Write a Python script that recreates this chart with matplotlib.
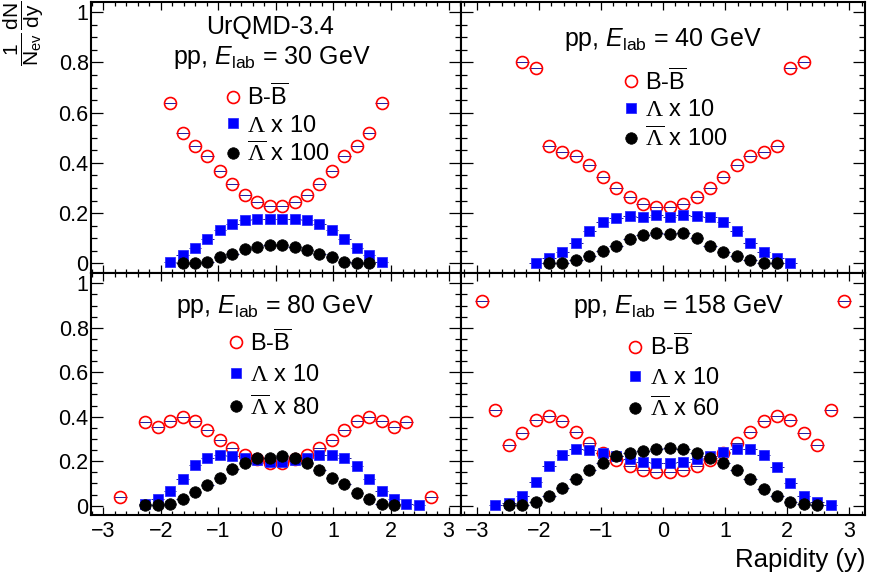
import numpy as np
import matplotlib
matplotlib.use("Agg")
import matplotlib.pyplot as plt
from matplotlib.ticker import MultipleLocator, FuncFormatter

plt.rcParams['font.family'] = ['Liberation Sans', 'DejaVu Sans']
plt.rcParams['mathtext.fontset'] = 'custom'
plt.rcParams['mathtext.rm'] = 'Liberation Sans'
plt.rcParams['mathtext.it'] = 'Liberation Sans:italic'
plt.rcParams['mathtext.sf'] = 'Liberation Serif'

nan = np.nan

# bin centres of the rapidity histograms
rapidity = [-2.916, -2.700, -2.484, -2.268, -2.052, -1.836, -1.620, -1.404,
            -1.188, -0.972, -0.756, -0.540, -0.324, -0.108, 0.108, 0.324,
            0.540, 0.756, 0.972, 1.188, 1.404, 1.620, 1.836, 2.052, 2.268,
            2.484, 2.700, 2.916]
half_bin = 0.108

# 30 GeV
bb_30 = [nan]*5 + [0.637, 0.520, 0.469, 0.427, 0.367, 0.316, 0.271, 0.245, 0.229,
                   0.229, 0.245, 0.271, 0.316, 0.367, 0.427, 0.469, 0.520, 0.637] + [nan]*5
lam_30 = [nan]*5 + [0.004, 0.033, 0.060, 0.096, 0.133, 0.158, 0.172, 0.177, 0.177,
                    0.177, 0.177, 0.172, 0.158, 0.133, 0.096, 0.060, 0.033, 0.004] + [nan]*5
alam_30 = [nan]*6 + [0.001, 0.001, 0.007, 0.023, 0.036, 0.056, 0.064, 0.071,
                     0.071, 0.064, 0.053, 0.036, 0.023, 0.007, 0.003, 0.001] + [nan]*6

# 40 GeV
bb_40 = [nan]*3 + [0.801, 0.778, 0.467, 0.445, 0.428, 0.392, 0.345, 0.299, 0.262, 0.236, 0.226,
                   0.226, 0.236, 0.262, 0.299, 0.345, 0.392, 0.428, 0.445, 0.467, 0.778, 0.801] + [nan]*3
lam_40 = [nan]*4 + [0.003, 0.020, 0.044, 0.080, 0.130, 0.166, 0.179, 0.189, 0.186, 0.191,
                    0.186, 0.191, 0.187, 0.186, 0.166, 0.130, 0.080, 0.044, 0.020, 0.003] + [nan]*4
alam_40 = [nan]*5 + [0.001, 0.001, 0.013, 0.029, 0.049, 0.070, 0.096, 0.113, 0.122,
                     0.117, 0.120, 0.102, 0.070, 0.044, 0.029, 0.011, 0.001, 0.001] + [nan]*5

# 80 GeV
bb_80 = [nan, 0.040, nan] + [0.376, 0.353, 0.380, 0.400, 0.380, 0.340, 0.295, 0.260, 0.230, 0.208, 0.193,
                             0.193, 0.208, 0.230, 0.260, 0.295, 0.340, 0.380, 0.400, 0.380, 0.353, 0.376] + [nan, 0.040, nan]
lam_80 = [nan]*3 + [0.009, 0.031, 0.066, 0.121, 0.181, 0.216, 0.226, 0.223, 0.216, 0.205, 0.196, 0.196,
                    0.205, 0.216, 0.226, 0.229, 0.216, 0.178, 0.121, 0.066, 0.031, 0.009, 0.002] + [nan]*2
alam_80 = [nan]*3 + [0.002, 0.002, 0.009, 0.028, 0.061, 0.091, 0.126, 0.166, 0.190, 0.213, 0.216,
                     0.223, 0.213, 0.193, 0.160, 0.126, 0.096, 0.058, 0.028, 0.009, 0.002] + [nan]*4

# 158 GeV
bb_158 = [0.920, 0.430, 0.272, 0.325, 0.385, 0.403, 0.380, 0.331, 0.283, 0.238, 0.204, 0.178, 0.160, 0.153,
          0.153, 0.160, 0.178, 0.204, 0.238, 0.283, 0.331, 0.380, 0.403, 0.385, 0.325, 0.272, 0.430, 0.920]
lam_158 = [nan] + [0.002, 0.013, 0.043, 0.106, 0.178, 0.230, 0.253, 0.250, 0.238, 0.223, 0.208, 0.198, 0.193,
                   0.193, 0.198, 0.208, 0.223, 0.241, 0.253, 0.253, 0.230, 0.175, 0.103, 0.043, 0.016, 0.002] + [nan]
alam_158 = [nan]*2 + [0.002, 0.002, 0.016, 0.043, 0.081, 0.118, 0.159, 0.190, 0.223, 0.238, 0.246, 0.257,
                      0.260, 0.253, 0.238, 0.216, 0.193, 0.159, 0.118, 0.076, 0.043, 0.016, 0.006, 0.002] + [nan]*2

panels = [
    dict(energy="30", series=(bb_30, lam_30, alam_30), scale="100"),
    dict(energy="40", series=(bb_40, lam_40, alam_40), scale="100"),
    dict(energy="80", series=(bb_80, lam_80, alam_80), scale="80"),
    dict(energy="158", series=(bb_158, lam_158, alam_158), scale="60"),
]

# axes rectangles (figure fraction) and text placement, tuned to the picture
rects = [[0.1043, 0.5296, 0.4256, 0.4675], [0.5299, 0.5296, 0.4644, 0.4675],
         [0.1043, 0.1136, 0.4256, 0.4160], [0.5299, 0.1136, 0.4644, 0.4160]]
xlims = [(-3.215, 3.215), (-3.255, 3.255), (-3.215, 3.215), (-3.255, 3.255)]
ylims = [(-0.040, 1.042), (-0.040, 1.042), (-0.042, 1.045), (-0.042, 1.045)]
title_pos = [(0.49, 0.796), (0.499, 0.859), (0.498, 0.862), (0.54, 0.862)]
leg_pos = [(0.365, 0.700), (0.404, 0.757), (0.372, 0.770), (0.414, 0.753)]
leg_space = [0.2, 0.2, 0.36, 0.31]

fig = plt.figure(figsize=(8.7, 5.81), dpi=100)

for k, (p, r) in enumerate(zip(panels, rects)):
    ax = fig.add_axes(r)
    bb, lam, alam = p["series"]
    handles = []
    for vals, kw in [
        (bb, dict(marker='o', ms=8.6, mfc='none', mec='#ff0000', mew=1.2)),
        (lam, dict(marker='s', ms=7.6, mfc='#0000ff', mec='#3030ff', mew=0.6)),
        (alam, dict(marker='o', ms=8.3, mfc='black', mec='black', mew=0.5)),
    ]:
        ax.errorbar(rapidity, vals, xerr=half_bin, fmt='none', ecolor='#1a1aa0',
                    elinewidth=0.7, capsize=0, zorder=2)
        h, = ax.plot(rapidity, vals, ls='none', zorder=3, **kw)
        handles.append(h)

    ax.set_xlim(*xlims[k])
    ax.set_ylim(*ylims[k])
    ax.xaxis.set_major_locator(MultipleLocator(1))
    ax.xaxis.set_minor_locator(MultipleLocator(0.2))
    ax.yaxis.set_major_locator(MultipleLocator(0.2))
    ax.yaxis.set_minor_locator(MultipleLocator(0.05))
    ax.yaxis.set_major_formatter(FuncFormatter(lambda v, pos: "%g" % round(v, 2)))
    ax.tick_params(which='both', direction='in', top=True, right=True, width=0.9,
                   labelsize=15.5)
    ax.tick_params(axis='x', which='major', length=6, pad=4)
    ax.tick_params(axis='x', which='minor', length=3)
    ax.tick_params(axis='y', which='major', length=8.5, pad=1.5)
    ax.tick_params(axis='y', which='minor', length=4)
    for s in ax.spines.values():
        s.set_linewidth(1.5)
    if k < 2:
        ax.tick_params(labelbottom=False)
    if k % 2 == 1:
        ax.tick_params(labelleft=False)

    if k == 0:
        ax.text(0.484, 0.907, "UrQMD-3.4", transform=ax.transAxes,
                ha='center', va='center', fontsize=18)
    ax.text(*title_pos[k], r"pp, $E_{\mathrm{lab}}$ = %s GeV" % p["energy"],
            transform=ax.transAxes, ha='center', va='center', fontsize=18)
    labels = [r"B-$\overline{\mathrm{B}}$", r"$\mathsf{\Lambda}$ x 10",
              r"$\overline{\mathsf{\Lambda}}$ x %s" % p["scale"]]
    ax.legend(handles, labels, loc='upper left', bbox_to_anchor=leg_pos[k],
              frameon=False, fontsize=17, handlelength=0.6, handletextpad=0.3,
              borderpad=0, borderaxespad=0, labelspacing=leg_space[k], numpoints=1)

fig.text(0.002, 0.999, r"$\dfrac{1}{\mathrm{N_{ev}}}\,\dfrac{\mathrm{dN}}{\mathrm{dy}}$",
         rotation=90, ha='left', va='top', fontsize=15)
fig.text(0.9943, 0.036, "Rapidity (y)", ha='right', va='center', fontsize=18.5)

fig.savefig("out.png", dpi=100)
